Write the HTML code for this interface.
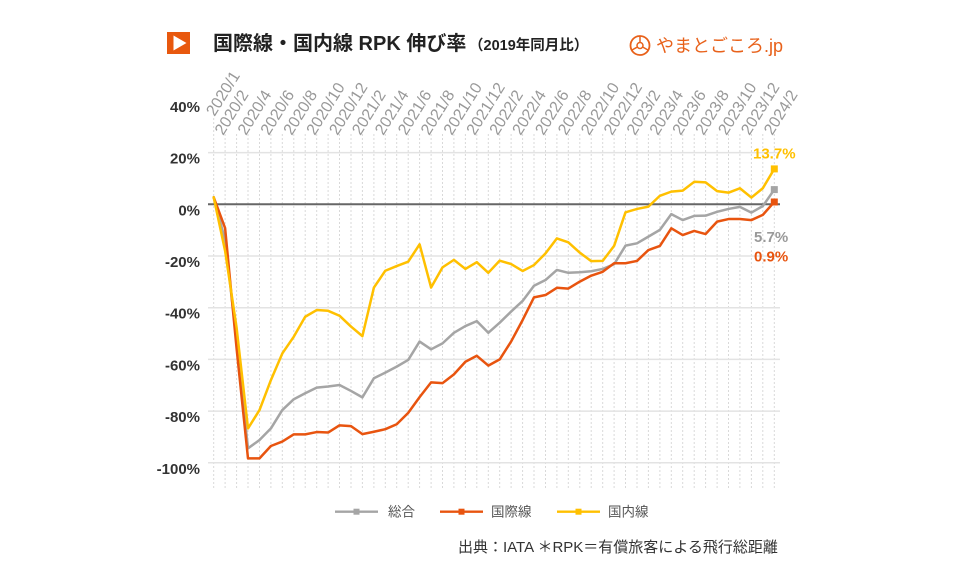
<!DOCTYPE html>
<html><head><meta charset="utf-8"><style>
html,body{margin:0;padding:0;background:#fff;}
svg{display:block;}
text{font-family:"Liberation Sans","Noto Sans CJK JP",sans-serif;}
</style></head><body>
<svg width="960" height="574" viewBox="0 0 960 574" xmlns="http://www.w3.org/2000/svg">
<rect width="960" height="574" fill="#fff"/>
<!-- title -->
<rect x="167" y="32" width="23" height="22" fill="#E8580E"/>
<polygon points="173.5,35.5 186.5,43 173.5,50.5" fill="#fff"/>
<text x="213" y="50" font-size="20" font-weight="700" fill="#222">国際線・国内線 RPK 伸び率</text>
<text x="469" y="50" font-size="14.5" font-weight="700" fill="#222">（2019年同月比）</text>
<!-- logo -->
<circle cx="640" cy="45.5" r="9.5" fill="none" stroke="#E8611A" stroke-width="1.8"/>
<circle cx="640" cy="45.5" r="3" fill="none" stroke="#E8611A" stroke-width="1.5"/>
<path d="M640 36 L640 42.5 M632 50 L637.4 47 M648 50 L642.6 47" stroke="#E8611A" stroke-width="1.5"/>
<text x="656" y="52" font-size="18" fill="#E8611A">やまとごころ.jp</text>

<!-- vertical dotted gridlines -->
<g stroke="#d9d9d9" stroke-width="1" stroke-dasharray="2 2">
<line x1="213.7" y1="118" x2="213.7" y2="489"/>
<line x1="225.1" y1="134" x2="225.1" y2="489"/><line x1="236.6" y1="134" x2="236.6" y2="489"/><line x1="248" y1="134" x2="248" y2="489"/><line x1="259.5" y1="134" x2="259.5" y2="489"/><line x1="270.9" y1="134" x2="270.9" y2="489"/><line x1="282.3" y1="134" x2="282.3" y2="489"/><line x1="293.8" y1="134" x2="293.8" y2="489"/><line x1="305.2" y1="134" x2="305.2" y2="489"/><line x1="316.7" y1="134" x2="316.7" y2="489"/><line x1="328.1" y1="134" x2="328.1" y2="489"/><line x1="339.5" y1="134" x2="339.5" y2="489"/><line x1="351" y1="134" x2="351" y2="489"/><line x1="362.4" y1="134" x2="362.4" y2="489"/><line x1="373.9" y1="134" x2="373.9" y2="489"/><line x1="385.3" y1="134" x2="385.3" y2="489"/><line x1="396.7" y1="134" x2="396.7" y2="489"/><line x1="408.2" y1="134" x2="408.2" y2="489"/><line x1="419.6" y1="134" x2="419.6" y2="489"/><line x1="431.1" y1="134" x2="431.1" y2="489"/><line x1="442.5" y1="134" x2="442.5" y2="489"/><line x1="453.9" y1="134" x2="453.9" y2="489"/><line x1="465.4" y1="134" x2="465.4" y2="489"/><line x1="476.8" y1="134" x2="476.8" y2="489"/><line x1="488.3" y1="134" x2="488.3" y2="489"/><line x1="499.7" y1="134" x2="499.7" y2="489"/><line x1="511.1" y1="134" x2="511.1" y2="489"/><line x1="522.6" y1="134" x2="522.6" y2="489"/><line x1="534" y1="134" x2="534" y2="489"/><line x1="545.5" y1="134" x2="545.5" y2="489"/><line x1="556.9" y1="134" x2="556.9" y2="489"/><line x1="568.3" y1="134" x2="568.3" y2="489"/><line x1="579.8" y1="134" x2="579.8" y2="489"/><line x1="591.2" y1="134" x2="591.2" y2="489"/><line x1="602.7" y1="134" x2="602.7" y2="489"/><line x1="614.1" y1="134" x2="614.1" y2="489"/><line x1="625.5" y1="134" x2="625.5" y2="489"/><line x1="637" y1="134" x2="637" y2="489"/><line x1="648.4" y1="134" x2="648.4" y2="489"/><line x1="659.9" y1="134" x2="659.9" y2="489"/><line x1="671.3" y1="134" x2="671.3" y2="489"/><line x1="682.7" y1="134" x2="682.7" y2="489"/><line x1="694.2" y1="134" x2="694.2" y2="489"/><line x1="705.6" y1="134" x2="705.6" y2="489"/><line x1="717.1" y1="134" x2="717.1" y2="489"/><line x1="728.5" y1="134" x2="728.5" y2="489"/><line x1="739.9" y1="134" x2="739.9" y2="489"/><line x1="751.4" y1="134" x2="751.4" y2="489"/><line x1="762.8" y1="134" x2="762.8" y2="489"/><line x1="774.3" y1="134" x2="774.3" y2="489"/>
</g>
<!-- horizontal gridlines -->
<g stroke="#e3e3e3" stroke-width="1.5">
<line x1="208" y1="152.6" x2="780" y2="152.6"/>
<line x1="208" y1="256" x2="780" y2="256"/>
<line x1="208" y1="307.7" x2="780" y2="307.7"/>
<line x1="208" y1="359.4" x2="780" y2="359.4"/>
<line x1="208" y1="411.1" x2="780" y2="411.1"/>
<line x1="208" y1="462.8" x2="780" y2="462.8"/>
</g>
<line x1="208" y1="204.3" x2="780" y2="204.3" stroke="#666" stroke-width="2"/>

<!-- y labels -->
<g font-size="15" font-weight="700" fill="#333" text-anchor="end">
<text x="200" y="112">40%</text>
<text x="200" y="163.6">20%</text>
<text x="200" y="215.3">0%</text>
<text x="200" y="267">-20%</text>
<text x="200" y="318.7">-40%</text>
<text x="200" y="370.4">-60%</text>
<text x="200" y="422.1">-80%</text>
<text x="200" y="473.8">-100%</text>
</g>

<!-- x labels -->
<g font-size="16" fill="#999">
<text transform="translate(214.5,117) rotate(-58)">2020/1</text>
<text transform="translate(223.1,136) rotate(-58)">2020/2</text>
<text transform="translate(246,136) rotate(-58)">2020/4</text>
<text transform="translate(268.9,136) rotate(-58)">2020/6</text>
<text transform="translate(291.8,136) rotate(-58)">2020/8</text>
<text transform="translate(314.7,136) rotate(-58)">2020/10</text>
<text transform="translate(337.5,136) rotate(-58)">2020/12</text>
<text transform="translate(360.4,136) rotate(-58)">2021/2</text>
<text transform="translate(383.3,136) rotate(-58)">2021/4</text>
<text transform="translate(406.2,136) rotate(-58)">2021/6</text>
<text transform="translate(429.1,136) rotate(-58)">2021/8</text>
<text transform="translate(451.9,136) rotate(-58)">2021/10</text>
<text transform="translate(474.8,136) rotate(-58)">2021/12</text>
<text transform="translate(497.7,136) rotate(-58)">2022/2</text>
<text transform="translate(520.6,136) rotate(-58)">2022/4</text>
<text transform="translate(543.5,136) rotate(-58)">2022/6</text>
<text transform="translate(566.3,136) rotate(-58)">2022/8</text>
<text transform="translate(589.2,136) rotate(-58)">2022/10</text>
<text transform="translate(612.1,136) rotate(-58)">2022/12</text>
<text transform="translate(635,136) rotate(-58)">2023/2</text>
<text transform="translate(657.9,136) rotate(-58)">2023/4</text>
<text transform="translate(680.7,136) rotate(-58)">2023/6</text>
<text transform="translate(703.6,136) rotate(-58)">2023/8</text>
<text transform="translate(726.5,136) rotate(-58)">2023/10</text>
<text transform="translate(749.4,136) rotate(-58)">2023/12</text>
<text transform="translate(772.3,136) rotate(-58)">2024/2</text>
</g>

<!-- series -->
<g transform="translate(0,204.3) scale(1,-2.585)" fill="none" stroke-linejoin="round" stroke-linecap="round">
<polyline vector-effect="non-scaling-stroke" stroke="#A5A5A5" stroke-width="2.5" points="213.7,2.7 225.1,-13.8 236.6,-52.9 248,-94.4 259.5,-91.2 270.9,-86.7 282.3,-79.6 293.8,-75.4 305.2,-73.1 316.7,-70.9 328.1,-70.5 339.5,-69.9 351,-72.2 362.4,-74.7 373.9,-67.3 385.3,-65.1 396.7,-62.8 408.2,-60.2 419.6,-53.1 431.1,-56.1 442.5,-53.8 453.9,-49.7 465.4,-47.1 476.8,-45.2 488.3,-49.7 499.7,-45.8 511.1,-41.5 522.6,-37.4 534,-31.5 545.5,-29.3 556.9,-25.4 568.3,-26.5 579.8,-26.3 591.2,-25.9 602.7,-25 614.1,-23.2 625.5,-16 637,-15.1 648.4,-12.5 659.9,-9.9 671.3,-3.8 682.7,-6.1 694.2,-4.5 705.6,-4.4 717.1,-2.9 728.5,-1.8 739.9,-1 751.4,-3.2 762.8,-0.7 774.3,5.7"/>
<polyline vector-effect="non-scaling-stroke" stroke="#E8540F" stroke-width="2.5" points="213.7,2.7 225.1,-9.2 236.6,-55.8 248,-98.3 259.5,-98.3 270.9,-93.5 282.3,-91.8 293.8,-89 305.2,-89 316.7,-88.1 328.1,-88.3 339.5,-85.5 351,-85.8 362.4,-88.9 373.9,-88 385.3,-87 396.7,-85.1 408.2,-80.7 419.6,-74.6 431.1,-68.9 442.5,-69.2 453.9,-65.8 465.4,-60.9 476.8,-58.6 488.3,-62.4 499.7,-60 511.1,-53.1 522.6,-44.8 534,-36 545.5,-35.1 556.9,-32.3 568.3,-32.6 579.8,-29.9 591.2,-27.6 602.7,-26.1 614.1,-22.8 625.5,-22.8 637,-21.9 648.4,-17.7 659.9,-16.1 671.3,-9.3 682.7,-11.9 694.2,-10.3 705.6,-11.5 717.1,-6.7 728.5,-5.7 739.9,-5.7 751.4,-6.1 762.8,-4.1 774.3,0.9"/>
<polyline vector-effect="non-scaling-stroke" stroke="#FFC000" stroke-width="2.5" points="213.7,2.7 225.1,-18 236.6,-47.8 248,-86.7 259.5,-79.6 270.9,-68 282.3,-57.7 293.8,-51.2 305.2,-43.5 316.7,-40.9 328.1,-41.2 339.5,-43.1 351,-47.3 362.4,-51 373.9,-32.2 385.3,-25.7 396.7,-23.9 408.2,-22.2 419.6,-15.5 431.1,-32.2 442.5,-24.4 453.9,-21.5 465.4,-25 476.8,-22.4 488.3,-26.5 499.7,-21.8 511.1,-23.1 522.6,-25.8 534,-23.5 545.5,-19 556.9,-13.2 568.3,-14.7 579.8,-18.7 591.2,-22 602.7,-21.9 614.1,-16.1 625.5,-3.1 637,-1.8 648.4,-0.9 659.9,3.3 671.3,4.9 682.7,5.3 694.2,8.7 705.6,8.5 717.1,5.1 728.5,4.5 739.9,6.2 751.4,2.6 762.8,6.2 774.3,13.7"/>
</g>
<!-- end markers -->
<rect x="770.8" y="186.1" width="7" height="7" fill="#A5A5A5"/>
<rect x="770.8" y="198.5" width="7" height="7" fill="#E8540F"/>
<rect x="770.8" y="165.4" width="7" height="7" fill="#FFC000"/>
<!-- end labels -->
<g font-size="15" font-weight="700">
<text x="753" y="158.5" fill="#FFC000">13.7%</text>
<text x="754" y="241.8" fill="#999">5.7%</text>
<text x="754" y="261.5" fill="#E8540F">0.9%</text>
</g>

<!-- legend -->
<line x1="335" y1="511.7" x2="378" y2="511.7" stroke="#A5A5A5" stroke-width="2.3"/>
<rect x="353.5" y="508.7" width="6" height="6" fill="#A5A5A5"/>
<text x="388" y="516.5" font-size="13.5" fill="#555">総合</text>
<line x1="440" y1="511.7" x2="483" y2="511.7" stroke="#E8540F" stroke-width="2.3"/>
<rect x="458.5" y="508.7" width="6" height="6" fill="#E8540F"/>
<text x="491" y="516.5" font-size="13.5" fill="#555">国際線</text>
<line x1="557" y1="511.7" x2="600" y2="511.7" stroke="#FFC000" stroke-width="2.3"/>
<rect x="575.5" y="508.7" width="6" height="6" fill="#FFC000"/>
<text x="608" y="516.5" font-size="13.5" fill="#555">国内線</text>

<!-- source -->
<text x="458" y="552" font-size="15" fill="#333">出典：IATA ＊RPK＝有償旅客による飛行総距離</text>
</svg>
</body></html>
